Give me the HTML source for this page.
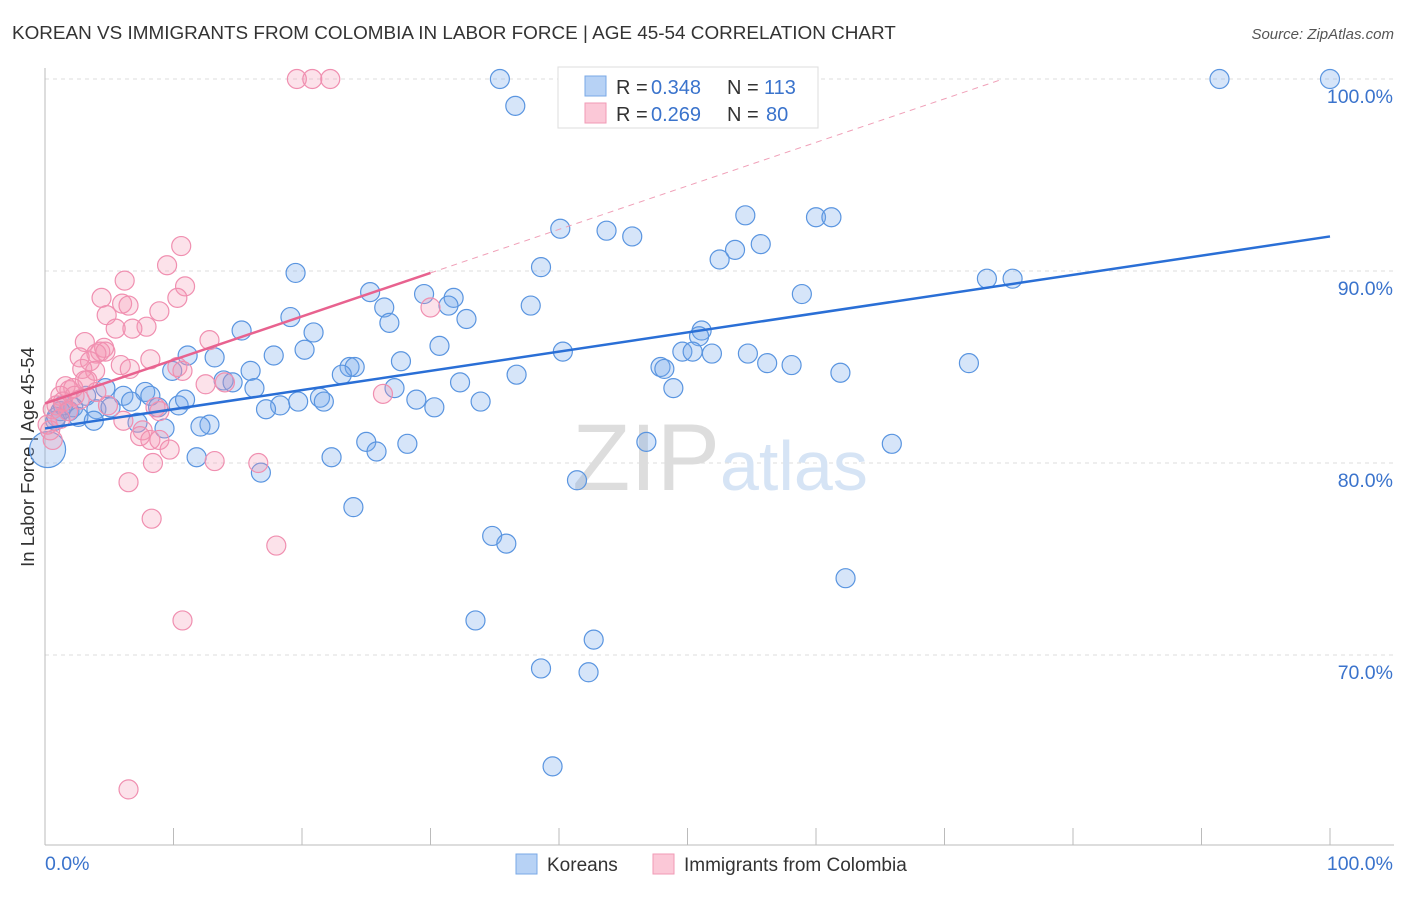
<!DOCTYPE html>
<html><head><meta charset="utf-8"><style>
body{margin:0;background:#fff;font-family:"Liberation Sans",sans-serif;}
svg text{font-family:"Liberation Sans",sans-serif;}
</style></head><body>
<svg id="chart" width="1406" height="892">
<text x="12" y="39" font-size="18.9" fill="#333">KOREAN VS IMMIGRANTS FROM COLOMBIA IN LABOR FORCE | AGE 45-54 CORRELATION CHART</text>
<text x="1394" y="39" font-size="15" fill="#555" font-style="italic" text-anchor="end">Source: ZipAtlas.com</text>
<text x="34" y="457" font-size="18.5" fill="#333" text-anchor="middle" transform="rotate(-90 34 457)">In Labor Force | Age 45-54</text>
<g id="grid"></g>
<text x="720" y="490" font-size="95" fill="#ddd" text-anchor="end" font-family="Liberation Serif">ZIP</text>
<text x="720" y="490" font-size="70" fill="#d6e4f5">atlas</text>
<g id="pts"></g>
<g id="lines"></g>
<g>
<rect x="558" y="67" width="260" height="61" fill="#fff" stroke="#ddd"/>
<rect x="585" y="76" width="21" height="20" fill="#b7d2f5" stroke="#7aa8e6"/>
<rect x="585" y="103" width="21" height="20" fill="#fbc8d7" stroke="#f09ab5"/>
<text x="616" y="94" font-size="20" fill="#333">R =</text>
<text x="651" y="94" font-size="20" fill="#3a73cc">0.348</text>
<text x="727" y="94" font-size="20" fill="#333">N =</text>
<text x="764" y="94" font-size="20" fill="#3a73cc">113</text>
<text x="616" y="121" font-size="20" fill="#333">R =</text>
<text x="651" y="121" font-size="20" fill="#3a73cc">0.269</text>
<text x="727" y="121" font-size="20" fill="#333">N =</text>
<text x="766" y="121" font-size="20" fill="#3a73cc">80</text>
</g>
<g>
<rect x="516" y="854" width="21" height="20" fill="#b7d2f5" stroke="#7aa8e6"/>
<text x="547" y="871" font-size="19" fill="#333">Koreans</text>
<rect x="653" y="854" width="21" height="20" fill="#fbc8d7" stroke="#f09ab5"/>
<text x="684" y="871" font-size="19" fill="#333">Immigrants from Colombia</text>
</g>
</svg>
<script>
const blueX=[35.4,40.7,57.6,91.4,100,36.6,40.1,43.7,45.7,54.5,60.0,61.2,55.7,53.7,52.5,19.5,38.6,73.3,75.3,58.9,25.3,29.5,31.8,31.4,26.4,37.8,32.8,19.1,26.8,15.3,20.9,51.1,50.9,30.7,20.2,17.8,13.2,40.3,49.6,50.4,51.9,54.7,27.7,11.1,47.9,48.2,56.2,58.1,71.9,61.9,23.7,24.1,23.1,16.0,36.7,9.9,32.3,13.9,14.6,4.7,16.3,27.2,48.9,7.8,8.2,6.1,6.7,10.4,10.9,21.4,21.7,19.7,18.3,28.9,33.9,30.3,17.2,3.2,4.0,1.9,2.2,2.6,3.8,0.9,1.2,12.8,7.2,12.1,9.3,25.0,28.2,46.8,65.9,25.8,22.3,11.8,16.8,41.4,24.0,34.8,35.9,62.3,33.5,42.7,38.6,42.3,39.5,8.8,5.1,0.8,1.4,0.2];
const blueY=[100,100,100,100,100,98.6,92.2,92.1,91.8,92.9,92.8,92.8,91.4,91.1,90.6,89.9,90.2,89.6,89.6,88.8,88.9,88.8,88.6,88.2,88.1,88.2,87.5,87.6,87.3,86.9,86.8,86.9,86.6,86.1,85.9,85.6,85.5,85.8,85.8,85.8,85.7,85.7,85.3,85.6,85.0,84.9,85.2,85.1,85.2,84.7,85.0,85.0,84.6,84.8,84.6,84.8,84.2,84.3,84.2,83.9,83.9,83.9,83.9,83.7,83.5,83.5,83.2,83.0,83.3,83.4,83.2,83.2,83.0,83.3,83.2,82.9,82.8,83.5,82.8,82.7,82.9,82.4,82.2,82.4,82.7,82.0,82.1,81.9,81.8,81.1,81.0,81.1,81.0,80.6,80.3,80.3,79.5,79.1,77.7,76.2,75.8,74.0,71.8,70.8,69.3,69.1,64.2,82.9,82.9,82.2,83.0,80.7];
const pinkX=[19.6,20.8,22.2,10.6,9.5,6.2,10.9,4.4,6.0,6.5,8.9,10.3,4.8,7.9,6.8,5.5,12.8,3.1,2.7,4.6,4.3,4.7,4.0,3.5,5.9,8.2,10.3,10.7,6.6,14.0,12.5,2.9,3.9,3.1,1.6,1.9,2.2,1.2,2.3,1.4,0.9,2.7,0.6,0.4,0.6,4.9,6.1,7.6,7.4,8.2,8.9,9.7,8.4,6.5,13.2,16.6,8.3,26.3,30.0,18.0,10.7,6.5,8.9,8.6,1.8,0.2,1.2,3.3,4.0];
const pinkY=[100,100,100,91.3,90.3,89.5,89.2,88.6,88.3,88.2,87.9,88.6,87.7,87.1,87.0,87.0,86.4,86.3,85.5,86.0,85.8,85.8,85.7,85.3,85.1,85.4,85.0,84.8,84.9,84.2,84.1,84.9,84.8,84.3,84.0,83.8,83.9,83.5,83.5,83.2,83.0,83.3,82.8,81.7,81.2,83.0,82.2,81.7,81.4,81.2,81.2,80.7,80.0,79.0,80.1,80.0,77.1,83.6,88.1,75.7,71.8,63.0,82.7,82.9,82.7,82.0,82.3,84.3,83.7];
const blueTrend=[81.8,91.8];
const pinkTrend=[83.1,89.9];
const yTicks=[100,90,80,70];
const NS="http://www.w3.org/2000/svg";
const sx=v=>45+v*12.85, sy=v=>79+(100-v)*19.2;
function mk(t,a,p){const e=document.createElementNS(NS,t);for(const k in a)e.setAttribute(k,a[k]);p.appendChild(e);return e;}
const grid=document.getElementById('grid');
yTicks.forEach(t=>{
 const l=mk('line',{x1:45,x2:1394,y1:sy(t),y2:sy(t),stroke:'#ddd','stroke-dasharray':'4,4'},grid);
 
 
 const tx=mk('text',{x:1393,y:sy(t)+24,'font-size':19.5,fill:'#3a73cc','text-anchor':'end'},grid);
 tx.textContent=t.toFixed(1)+'%';
 
 
});
mk('line',{x1:45,x2:45,y1:68,y2:845,stroke:'#bbb'},grid);
mk('line',{x1:45,x2:1394,y1:845,y2:845,stroke:'#bbb'},grid);
for(let i=0;i<=10;i++){const t=mk('line',{x1:sx(i*10),x2:sx(i*10),y1:828,y2:845,stroke:'#bbb'},grid);
 
 }
const x0=mk('text',{x:45,y:870,'font-size':19.5,fill:'#3a73cc'},grid);x0.textContent='0.0%';


const x1=mk('text',{x:1393,y:870,'font-size':19.5,fill:'#3a73cc','text-anchor':'end'},grid);x1.textContent='100.0%';


const pts=document.getElementById('pts');
blueX.forEach((x,i)=>{const big=i===blueX.length-1;
 const c=mk('circle',{cx:sx(x),cy:sy(blueY[i]),r:big?18:9.5,fill:'rgba(120,170,235,0.3)',stroke:'#5a95e0','stroke-width':1.2},pts);
 
 });
pinkX.forEach((x,i)=>{
 const c=mk('circle',{cx:sx(x),cy:sy(pinkY[i]),r:9.5,fill:'rgba(245,150,180,0.28)',stroke:'#f08fb0','stroke-width':1.2},pts);
 
 });
const lines=document.getElementById('lines');
const bl=mk('line',{x1:sx(0),y1:sy(blueTrend[0]),x2:sx(100),y2:sy(blueTrend[1]),stroke:'#2a6fd6','stroke-width':2.5},lines);


const slope=(pinkTrend[1]-pinkTrend[0])/30;
const xe=(100-pinkTrend[0])/slope;
const pd=mk('line',{x1:sx(30),y1:sy(pinkTrend[1]),x2:sx(xe),y2:sy(100),stroke:'#f0a0b8','stroke-width':1,'stroke-dasharray':'6,5'},lines);


const pl=mk('line',{x1:sx(0),y1:sy(pinkTrend[0]),x2:sx(30),y2:sy(pinkTrend[1]),stroke:'#e8628f','stroke-width':2.5},lines);


</script>
</body></html>
